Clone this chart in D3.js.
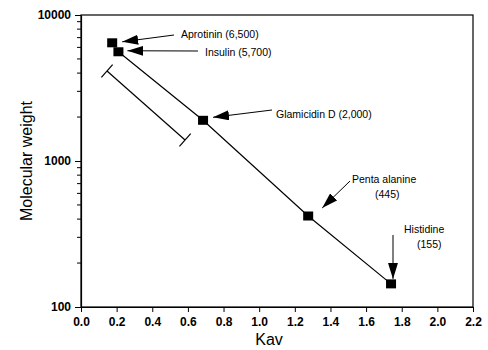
<!DOCTYPE html>
<html><head><meta charset="utf-8">
<script src="https://cdn.jsdelivr.net/npm/d3@7"></script>
<style>body{margin:0;background:#fff}</style>
</head><body>
<svg id="c" width="488" height="350"></svg>
<script>
const names = ["Aprotinin (6,500)", "Insulin (5,700)", "Glamicidin D (2,000)", "Penta alanine (445)", "Histidine (155)"];
const kav = [0.175, 0.21, 0.685, 1.275, 1.74];
const mw = [6450, 5600, 1900, 420, 144];
const lineIdx = [1, 2, 3, 4];
const bracketKav = [0.146, 0.584];
const bracketMw = [4130, 1393];
const xTicks = [0, 0.2, 0.4, 0.6, 0.8, 1.0, 1.2, 1.4, 1.6, 1.8, 2.0, 2.2];
const yMajor = [100, 1000, 10000];

const svg = d3.select("#c");
const L = 81, R = 473, T = 15, B = 307;
const x = d3.scaleLinear().domain([0, 2.2]).range([L, R]);
const y = d3.scaleLog().domain([100, 10000]).range([B, T]);
const font = "Arial, 'Liberation Sans', Helvetica, sans-serif";

svg.append("defs").append("marker").attr("id", "ah")
  .attr("viewBox", "0 0 16 10").attr("refX", 16).attr("refY", 5)
  .attr("markerWidth", 16).attr("markerHeight", 10).attr("markerUnits", "userSpaceOnUse")
  .attr("orient", "auto").append("path").attr("d", "M0,0L16,5L0,10Z").attr("fill", "#000");

// frame
svg.append("rect").attr("x", L).attr("y", T).attr("width", R - L).attr("height", B - T)
  .attr("fill", "none").attr("stroke", "#000").attr("stroke-width", 1.2);

// x axis
const xa = svg.append("g").attr("transform", `translate(0,${B})`)
  .call(d3.axisBottom(x).tickValues(xTicks).tickFormat(d3.format(".1f")).tickSize(5).tickSizeOuter(0));
xa.select(".domain").attr("stroke-width", 1.2);
xa.selectAll("text").attr("font-family", font).attr("font-size", 12).attr("font-weight", "bold").attr("dy", "0.9em");

// y axis
const yMinor = [];
for (let d = 100; d < 10000; d *= 10) for (let k = 2; k <= 9; k++) yMinor.push(d * k);
const ya = svg.append("g").attr("transform", `translate(${L},0)`)
  .call(d3.axisLeft(y).tickValues(yMajor).tickFormat(d3.format("d")).tickSize(6).tickSizeOuter(0));
ya.select(".domain").attr("stroke-width", 1.2);
ya.selectAll("text").attr("font-family", font).attr("font-size", 12).attr("font-weight", "bold").attr("dx", "-1px");
svg.append("g").selectAll("line").data(yMinor).join("line")
  .attr("x1", L - 4).attr("x2", L).attr("y1", d => y(d)).attr("y2", d => y(d)).attr("stroke", "#000");

// titles
svg.append("text").attr("x", (L + R) / 2 - 8).attr("y", 345).attr("text-anchor", "middle")
  .attr("font-family", font).attr("font-size", 16).text("Kav");
svg.append("text").attr("transform", `translate(32,${(T + B) / 2}) rotate(-90)`).attr("text-anchor", "middle")
  .attr("font-family", font).attr("font-size", 16).text("Molecular weight");

// line
svg.append("path").datum(lineIdx).attr("fill", "none").attr("stroke", "#000").attr("stroke-width", 1.2)
  .attr("d", d3.line().x(i => x(kav[i])).y(i => y(mw[i])));

// bracket
const bx1 = x(bracketKav[0]), by1 = y(bracketMw[0]), bx2 = x(bracketKav[1]), by2 = y(bracketMw[1]);
svg.append("line").attr("x1", bx1).attr("y1", by1).attr("x2", bx2).attr("y2", by2).attr("stroke", "#000").attr("stroke-width", 1.2);
const ang = Math.atan2(by2 - by1, bx2 - bx1), px = -Math.sin(ang) * 8.5, py = Math.cos(ang) * 8.5;
[[bx1, by1], [bx2, by2]].forEach(([cx, cy]) => {
  svg.append("line").attr("x1", cx - px).attr("y1", cy - py).attr("x2", cx + px).attr("y2", cy + py)
    .attr("stroke", "#000").attr("stroke-width", 1.2);
});

// points
svg.append("g").selectAll("rect").data(kav).join("rect")
  .attr("x", (d, i) => x(d) - 5).attr("y", (d, i) => y(mw[i]) - 4.5).attr("width", 10).attr("height", 9).attr("fill", "#000");

// annotations
const ann = svg.append("g").attr("font-family", font).attr("font-size", 10.5);
function arrow(x1, y1, x2, y2) {
  svg.append("line").attr("x1", x1).attr("y1", y1).attr("x2", x2).attr("y2", y2)
    .attr("stroke", "#000").attr("stroke-width", 1).attr("marker-end", "url(#ah)");
}
ann.append("text").attr("x", 181).attr("y", 38).text(names[0]);
arrow(174, 35, x(kav[0]) + 10, y(mw[0]) - 1);
ann.append("text").attr("x", 205).attr("y", 56).text(names[1]);
arrow(198, 51, x(kav[1]) + 9, y(mw[1]) - 1);
ann.append("text").attr("x", 276).attr("y", 118).text(names[2]);
arrow(272, 110, x(kav[2]) + 10, y(mw[2]) - 3);
ann.append("text").attr("x", 352).attr("y", 183).text("Penta alanine");
ann.append("text").attr("x", 375).attr("y", 198).text("(445)");
arrow(350, 181, x(kav[3]) + 14, y(mw[3]) - 8);
ann.append("text").attr("x", 404).attr("y", 233).text("Histidine");
ann.append("text").attr("x", 417).attr("y", 248).text("(155)");
arrow(393, 235, 393, y(mw[4]) - 5);
</script>
</body></html>
